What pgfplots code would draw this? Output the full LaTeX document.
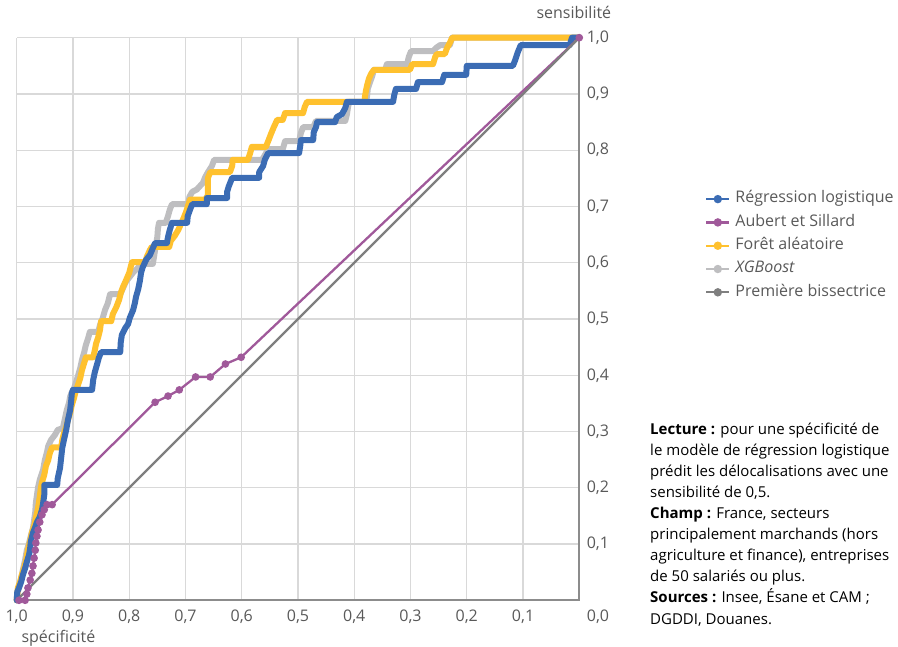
\documentclass[border=0pt]{standalone}
\usepackage{pgfplots}
\pgfplotsset{compat=1.18}
\usepackage{fontspec}
\setmainfont{Open Sans}
\definecolor{cBlue}{HTML}{3B6CB4}
\definecolor{cPurple}{HTML}{A0599A}
\definecolor{cYellow}{HTML}{FFC12E}
\definecolor{cXgb}{HTML}{BEBEC0}
\definecolor{cBis}{HTML}{7F7F7F}
\definecolor{cGrid}{HTML}{D9D9D9}
\definecolor{cAxis}{HTML}{8C8C8C}
\definecolor{cText}{HTML}{595959}
\newcommand{\fs}{\fontsize{16bp}{19bp}\selectfont}
\newcommand{\fn}{\fontsize{15bp}{18bp}\selectfont}
\begin{document}
\begin{tikzpicture}
\path[use as bounding box] (0,0) rectangle (898bp,647bp);
\clip (0,0) rectangle (898bp,647bp);
\begin{axis}[
  at={(16.7bp,46.7bp)}, anchor=south west,
  scale only axis, width=562.6bp, height=562.6bp,
  xmin=0, xmax=1, ymin=0, ymax=1, x dir=reverse,
  clip=false,
  axis line style={draw=none},
  xtick={0.1,0.2,0.3,0.4,0.5,0.6,0.7,0.8,0.9,1},
  xticklabels={{0,1},{0,2},{0,3},{0,4},{0,5},{0,6},{0,7},{0,8},{0,9},{1,0}},
  ytick={0.1,0.2,0.3,0.4,0.5,0.6,0.7,0.8,0.9,1},
  yticklabels={{0,1},{0,2},{0,3},{0,4},{0,5},{0,6},{0,7},{0,8},{0,9},{1,0}},
  yticklabel pos=right,
  major tick length=0pt,
  grid=major,
  grid style={draw=cGrid, line width=1.3bp},
  tick label style={font=\fs, text=cText},
  xticklabel style={yshift=-6bp},
  yticklabel style={anchor=west, xshift=4bp},
  legend cell align=left,
  legend style={at={(1.2234,0.7272)}, anchor=north west, draw=none, fill=none,
    font=\fs, text=cText, inner sep=0pt, row sep=7.8bp, column sep=5bp,
    nodes={inner sep=0pt, text height=11.5bp, text depth=4bp}},
  legend image code/.code={\draw[mark repeat=2,mark phase=2,#1] plot coordinates {(0bp,0bp) (11.5bp,0bp) (23bp,0bp)};},
]
\addlegendimage{cBlue, line width=2.3bp, mark=*, mark size=3bp}
\addlegendentry{Régression logistique}
\addlegendimage{cPurple, line width=2.3bp, mark=*, mark size=3bp}
\addlegendentry{Aubert et Sillard}
\addlegendimage{cYellow, line width=2.3bp, mark=*, mark size=3bp}
\addlegendentry{Forêt aléatoire}
\addlegendimage{cXgb, line width=2.3bp, mark=*, mark size=3bp}
\addlegendentry{\textit{XGBoost}}
\addlegendimage{cBis, line width=2.3bp, mark=*, mark size=3bp}
\addlegendentry{Première bissectrice}

\draw[cAxis, line width=1.8bp] (axis cs:1,0) -- (axis cs:0,0) -- (axis cs:0,1);

% XGBoost
\addplot[forget plot, cXgb, line width=6bp, line cap=round, line join=round] coordinates {
(1.000,0.000) (0.999,0.011) (0.996,0.022) (0.992,0.036) (0.989,0.054) (0.985,0.072)
(0.982,0.089) (0.978,0.102) (0.975,0.114) (0.971,0.129) (0.969,0.143) (0.967,0.157)
(0.966,0.173) (0.964,0.187) (0.962,0.201) (0.959,0.214) (0.953,0.232) (0.950,0.249)
(0.946,0.264) (0.944,0.274) (0.939,0.285) (0.932,0.294) (0.927,0.303) (0.918,0.306)
(0.914,0.324) (0.911,0.338) (0.907,0.351) (0.905,0.362) (0.902,0.370) (0.898,0.377)
(0.895,0.386) (0.891,0.399) (0.887,0.413) (0.884,0.427) (0.880,0.441) (0.877,0.454)
(0.873,0.466) (0.870,0.477) (0.855,0.477) (0.852,0.489) (0.847,0.502) (0.843,0.516)
(0.838,0.528) (0.834,0.544) (0.816,0.544) (0.811,0.555) (0.806,0.566) (0.799,0.575)
(0.792,0.584) (0.784,0.591) (0.781,0.598) (0.758,0.598) (0.756,0.610) (0.754,0.623)
(0.752,0.635) (0.750,0.646) (0.749,0.660) (0.747,0.671) (0.735,0.671) (0.731,0.683)
(0.728,0.694) (0.724,0.704) (0.695,0.704) (0.693,0.717) (0.688,0.726) (0.680,0.730)
(0.669,0.742) (0.665,0.752) (0.660,0.761) (0.653,0.772) (0.649,0.783) (0.564,0.783)
(0.559,0.791) (0.553,0.802) (0.527,0.802) (0.523,0.816) (0.498,0.816) (0.495,0.830)
(0.491,0.841) (0.473,0.841) (0.468,0.852) (0.416,0.852) (0.413,0.864) (0.411,0.877)
(0.409,0.886) (0.379,0.886) (0.377,0.898) (0.376,0.909) (0.372,0.921) (0.368,0.932)
(0.365,0.943) (0.345,0.943) (0.342,0.953) (0.306,0.953) (0.303,0.966) (0.299,0.976)
(0.260,0.976) (0.253,0.983) (0.247,0.987) (0.230,0.987) (0.226,1.000) (0.000,1.000)
};
% Foret aleatoire
\addplot[forget plot, cYellow, line width=6bp, line cap=round, line join=round] coordinates {
(1.000,0.000) (0.999,0.009) (0.998,0.022) (0.994,0.033) (0.991,0.045) (0.987,0.057)
(0.983,0.072) (0.980,0.089) (0.976,0.105) (0.973,0.120) (0.969,0.132) (0.966,0.146)
(0.962,0.164) (0.959,0.184) (0.957,0.200) (0.955,0.210) (0.951,0.223) (0.948,0.239)
(0.944,0.249) (0.941,0.262) (0.937,0.272) (0.921,0.272) (0.919,0.285) (0.916,0.297)
(0.912,0.308) (0.909,0.320) (0.905,0.333) (0.902,0.347) (0.898,0.360) (0.895,0.372)
(0.891,0.383) (0.887,0.395) (0.884,0.409) (0.880,0.422) (0.877,0.432) (0.864,0.432)
(0.861,0.445) (0.859,0.456) (0.855,0.468) (0.852,0.480) (0.850,0.496) (0.832,0.496)
(0.829,0.509) (0.823,0.521) (0.818,0.534) (0.815,0.546) (0.811,0.557) (0.806,0.568)
(0.800,0.582) (0.797,0.594) (0.795,0.601) (0.772,0.601) (0.768,0.612) (0.763,0.623)
(0.760,0.628) (0.729,0.628) (0.726,0.639) (0.719,0.648) (0.713,0.658) (0.708,0.669)
(0.703,0.680) (0.699,0.690) (0.692,0.712) (0.665,0.712) (0.660,0.720) (0.660,0.751)
(0.656,0.761) (0.621,0.761) (0.617,0.772) (0.616,0.783) (0.589,0.783) (0.585,0.795)
(0.582,0.806) (0.557,0.806) (0.553,0.816) (0.548,0.829) (0.543,0.841) (0.537,0.854)
(0.527,0.854) (0.523,0.866) (0.491,0.866) (0.488,0.877) (0.484,0.886) (0.381,0.886)
(0.381,0.895) (0.379,0.907) (0.377,0.916) (0.374,0.927) (0.370,0.936) (0.365,0.943)
(0.301,0.943) (0.297,0.953) (0.260,0.953) (0.256,0.966) (0.253,0.971) (0.239,0.971)
(0.235,0.982) (0.230,0.991) (0.226,1.000) (0.000,1.000)
};
% Regression logistique
\addplot[forget plot, cBlue, line width=6bp, line cap=round, line join=round] coordinates {
(1.000,0.000) (0.999,0.015) (0.996,0.022) (0.992,0.033) (0.989,0.045) (0.985,0.057)
(0.982,0.068) (0.978,0.081) (0.976,0.093) (0.975,0.104) (0.971,0.120) (0.967,0.130)
(0.964,0.139) (0.959,0.148) (0.955,0.161) (0.953,0.173) (0.951,0.187) (0.951,0.205)
(0.928,0.205) (0.927,0.217) (0.923,0.235) (0.921,0.253) (0.919,0.271) (0.916,0.285)
(0.912,0.303) (0.909,0.320) (0.905,0.338) (0.903,0.356) (0.902,0.368) (0.900,0.374)
(0.866,0.374) (0.864,0.392) (0.861,0.406) (0.857,0.420) (0.854,0.431) (0.850,0.441)
(0.816,0.441) (0.815,0.459) (0.813,0.472) (0.807,0.484) (0.802,0.491) (0.799,0.502)
(0.793,0.516) (0.790,0.528) (0.788,0.539) (0.784,0.553) (0.781,0.568) (0.779,0.582)
(0.776,0.592) (0.770,0.605) (0.763,0.614) (0.758,0.626) (0.754,0.635) (0.733,0.635)
(0.731,0.646) (0.728,0.658) (0.724,0.671) (0.697,0.671) (0.696,0.683) (0.692,0.694)
(0.688,0.704) (0.662,0.704) (0.662,0.715) (0.626,0.715) (0.626,0.726) (0.623,0.736)
(0.617,0.751) (0.569,0.751) (0.569,0.761) (0.562,0.772) (0.559,0.783) (0.553,0.795)
(0.498,0.795) (0.496,0.808) (0.495,0.818) (0.473,0.818) (0.472,0.832) (0.468,0.841)
(0.466,0.850) (0.434,0.850) (0.431,0.859) (0.422,0.864) (0.416,0.875) (0.413,0.886)
(0.331,0.886) (0.329,0.898) (0.326,0.909) (0.290,0.909) (0.287,0.921) (0.244,0.921)
(0.240,0.934) (0.201,0.934) (0.200,0.950) (0.118,0.950) (0.114,0.960) (0.109,0.975)
(0.104,0.987) (0.017,0.987) (0.013,1.000) (0.000,1.000)
};
% Aubert et Sillard
\addplot[forget plot, cPurple, line width=2.3bp, mark=*, mark size=2.6bp] coordinates {
(0.996,0.000) (0.985,0.000) (0.982,0.011) (0.980,0.022) (0.976,0.036) (0.973,0.048)
(0.971,0.061) (0.969,0.075) (0.967,0.089) (0.966,0.102) (0.964,0.114) (0.962,0.125)
(0.959,0.139) (0.955,0.152) (0.951,0.161) (0.946,0.170) (0.937,0.170)
(0.754,0.352) (0.731,0.363) (0.711,0.374) (0.682,0.397) (0.656,0.397) (0.629,0.420)
(0.601,0.432) (0.000,1.000)
};
% Premiere bissectrice
\addplot[forget plot, cBis, line width=2.3bp] coordinates {(1,0) (0,1)};
\end{axis}
\node[font=\fs, text=cText, anchor=base west] at (533bp,628bp) {sensibilité};
\node[font=\fs, text=cText, anchor=base west] at (18bp,5bp) {spécificité};
\node[font=\fs, text=cText, anchor=center] at (598bp,30bp) {0,0};
\begin{scope}[every node/.style={font=\fn, text=black, anchor=base west, inner sep=0pt}]
\node at (650bp,212bp) {\textbf{Lecture :} pour une spécificité de};
\node at (650bp,191bp) {le modèle de régression logistique};
\node at (650bp,170bp) {prédit les délocalisations avec une};
\node at (650bp,149bp) {sensibilité de 0,5.};
\node at (650bp,128bp) {\textbf{Champ :} France, secteurs};
\node at (650bp,107bp) {principalement marchands (hors};
\node at (650bp,86bp) {agriculture et finance), entreprises};
\node at (650bp,65bp) {de 50 salariés ou plus.};
\node at (650bp,44bp) {\textbf{Sources :} Insee, Ésane et CAM ;};
\node at (650bp,23bp) {DGDDI, Douanes.};
\end{scope}
\end{tikzpicture}
\end{document}
